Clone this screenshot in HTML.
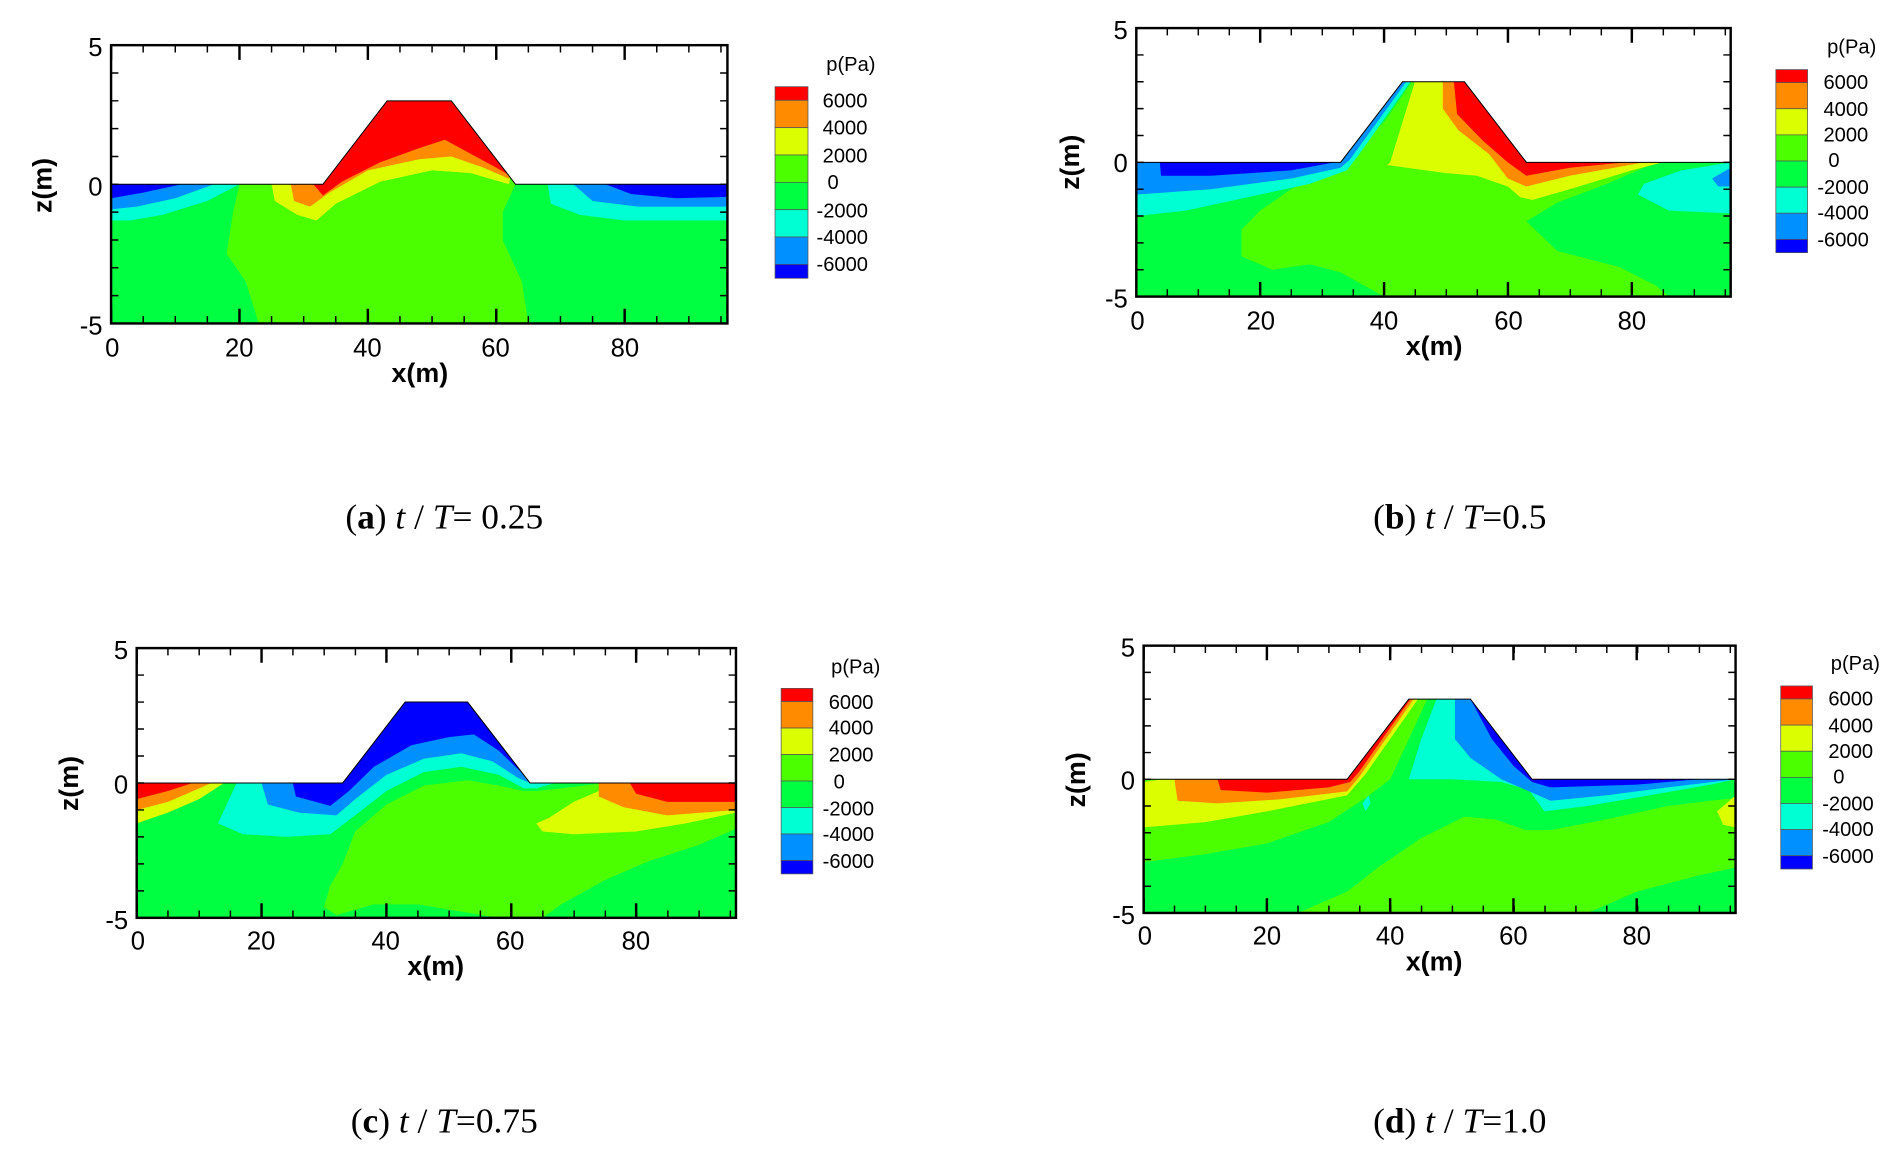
<!DOCTYPE html>
<html><head><meta charset="utf-8"><style>
html,body{margin:0;padding:0;background:#fff}
svg{display:block}
.R{fill:#ff0000}.O{fill:#ff8c00}.Y{fill:#dcff00}.LG{fill:#4cff00}.G{fill:#00ff40}.C{fill:#00ffd2}.LB{fill:#0090ff}.B{fill:#0000ff}
.t{font-family:"Liberation Sans",sans-serif;font-size:21px;fill:#000}
.l{font-family:"Liberation Sans",sans-serif;font-size:16.5px;fill:#000}
.ax{font-family:"Liberation Sans",sans-serif;font-size:22px;font-weight:bold;fill:#000}
.cap{font-family:"Liberation Serif",serif;font-size:29px;fill:#000}
</style></head><body>
<svg width="1904" height="1165" viewBox="0 0 1560 954.5" xmlns="http://www.w3.org/2000/svg">
<defs>
<clipPath id="dom"><polygon points="0,0 33,0 43,3 53,3 63,0 96,0 96,-5 0,-5"/></clipPath>
</defs>

<!-- ===== Panel a ===== -->
<g transform="translate(91,151) scale(5.26,-22.8)">
<g clip-path="url(#dom)">
<rect x="0" y="-5" width="96" height="10" class="G"/>
<polygon class="LG" points="20,0 19,-1 18,-2.5 21,-3.5 23,-5 65,-5 64,-3.5 61,-2 61,-1 63,0 63,5 20,5"/>
<polygon class="Y" points="25,0 25.5,-0.6 29,-1.1 32,-1.3 35,-0.7 42,0.1 50,0.5 56,0.4 62,0 65,5 25,5"/>
<polygon class="O" points="28,0 28.5,-0.6 31,-0.8 34,-0.3 40,0.5 48,0.9 53,1.0 58,0.6 62,0.2 65,5 28,5"/>
<polygon class="R" points="31.5,0 33,-0.4 36,0.1 42,0.8 48,1.3 52,1.6 56,1.1 60,0.6 63,0.2 65,5 31,5"/>
<polygon class="C" points="0,0 20,0 15,-0.6 8,-1.1 3,-1.3 0,-1.3"/>
<polygon class="LB" points="0,0 16,0 10,-0.5 4,-0.8 0,-0.9"/>
<polygon class="B" points="0,0 11,0 5,-0.3 0,-0.5"/>
<polygon class="C" points="68,0 68.5,-0.7 73,-1.1 80,-1.3 96,-1.3 96,0"/>
<polygon class="LB" points="72,0 75,-0.6 82,-0.8 96,-0.8 96,0"/>
<polygon class="B" points="77,0 81,-0.35 88,-0.5 96,-0.45 96,0"/>
</g>
<polyline points="0,0 33,0 43,3 53,3 63,0 96,0" fill="none" stroke="#000" stroke-width="1" vector-effect="non-scaling-stroke"/>
</g>
<g stroke="#000" fill="none">
<rect x="91" y="37" width="505" height="228" stroke-width="2"/>
<line x1="91" x2="596" y1="40" y2="40" stroke-width="6" stroke-dasharray="1.2 25.1" stroke-dashoffset="0.6"/>
<line x1="91" x2="596" y1="43" y2="43" stroke-width="12" stroke-dasharray="2 103.2" stroke-dashoffset="1"/>
<line x1="91" x2="596" y1="262" y2="262" stroke-width="6" stroke-dasharray="1.2 25.1" stroke-dashoffset="0.6"/>
<line x1="91" x2="596" y1="259" y2="259" stroke-width="12" stroke-dasharray="2 103.2" stroke-dashoffset="1"/>
<line x1="94" x2="94" y1="37" y2="265" stroke-width="6" stroke-dasharray="1.2 21.6" stroke-dashoffset="0.6"/>
<line x1="593" x2="593" y1="37" y2="265" stroke-width="6" stroke-dasharray="1.2 21.6" stroke-dashoffset="0.6"/>
</g>
<g class="t" text-anchor="end"><text x="84" y="46">5</text><text x="84" y="160">0</text><text x="84" y="274">-5</text></g>
<g class="t" text-anchor="middle"><text x="92" y="292">0</text><text x="196" y="292">20</text><text x="301" y="292">40</text><text x="406" y="292">60</text><text x="512" y="292">80</text></g>
<text class="ax" x="344" y="313" text-anchor="middle">x(m)</text>
<text class="ax" transform="translate(42,152) rotate(-90)" text-anchor="middle">z(m)</text>
<g stroke="#555" stroke-width="0.6">
<rect x="635" y="71" width="27" height="11.2" class="R"/><rect x="635" y="82.2" width="27" height="22.4" class="O"/><rect x="635" y="104.6" width="27" height="22.4" class="Y"/><rect x="635" y="127" width="27" height="22.4" class="LG"/><rect x="635" y="149.4" width="27" height="22.4" class="G"/><rect x="635" y="171.8" width="27" height="22.4" class="C"/><rect x="635" y="194.2" width="27" height="22.4" class="LB"/><rect x="635" y="216.6" width="27" height="11.4" class="B"/>
</g>
<text class="l" x="677" y="58" font-size="14">p(Pa)</text>
<g class="l"><text x="674" y="88">6000</text><text x="674" y="110">4000</text><text x="674" y="133">2000</text><text x="678" y="155">0</text><text x="669" y="178">-2000</text><text x="669" y="200">-4000</text><text x="669" y="222">-6000</text></g>
<text class="cap" x="364" y="433" text-anchor="middle">(<tspan font-weight="bold">a</tspan>) <tspan font-style="italic">t</tspan> / <tspan font-style="italic">T</tspan>= 0.25</text>

<!-- ===== Panel b ===== -->
<g transform="translate(931,133) scale(5.073,-22)">
<g clip-path="url(#dom)">
<rect x="0" y="-5" width="96" height="10" class="G"/>
<polygon class="LG" points="44.5,3 40,1.5 34,0.3 30,-0.4 25,-1 20,-1.8 17,-2.5 17,-3.5 22,-4 28,-3.8 33,-4.1 40,-5 86,-5 84,-4.6 78,-3.9 68,-3.3 63,-2.2 68,-1.5 76,-0.8 84,0 96,0 96,5 44.5,5"/>
<polygon class="Y" points="45,3 43,1.5 41,0 40.5,-0.1 50,-0.4 55,-0.5 60,-0.9 62,-1.3 64,-1.4 70,-1.0 80,-0.3 85,0 96,5 45,5"/>
<polygon class="O" points="49.5,3 49.5,2 52,1.2 57,0.3 60,-0.6 63,-0.9 70,-0.5 82,0 96,5 49.5,5"/>
<polygon class="R" points="51.3,3 51.8,1.8 56,0.8 60,0 63,-0.5 70,-0.2 79,0 96,5 51.3,5"/>
<polygon class="C" points="0,0 33,0 43,3 44.3,3 36,0.3 34,-0.3 28,-0.8 18,-1.3 8,-1.8 0,-2.0"/>
<polygon class="LB" points="0,0 33,0 43,3 43.6,3 34.5,0.1 33,-0.2 25,-0.6 12,-1.0 0,-1.2"/>
<polygon class="B" points="3.8,0 32,0 25,-0.3 12,-0.5 4,-0.5"/>
<polygon class="C" points="96,0 88,-0.3 82,-0.8 81,-1.2 86,-1.8 96,-1.9"/>
<polygon class="LB" points="96,-0.2 93,-0.6 94,-0.9 96,-0.9"/>
</g>
<polyline points="0,0 33,0 43,3 53,3 63,0 96,0" fill="none" stroke="#000" stroke-width="1" vector-effect="non-scaling-stroke"/>
</g>
<g stroke="#000" fill="none">
<rect x="931" y="23" width="487" height="220" stroke-width="2"/>
<line x1="931" x2="1418" y1="26" y2="26" stroke-width="6" stroke-dasharray="1.2 24.2" stroke-dashoffset="0.6"/>
<line x1="931" x2="1418" y1="29" y2="29" stroke-width="12" stroke-dasharray="2 99.5" stroke-dashoffset="1"/>
<line x1="931" x2="1418" y1="240" y2="240" stroke-width="6" stroke-dasharray="1.2 24.2" stroke-dashoffset="0.6"/>
<line x1="931" x2="1418" y1="237" y2="237" stroke-width="12" stroke-dasharray="2 99.5" stroke-dashoffset="1"/>
<line x1="934" x2="934" y1="23" y2="243" stroke-width="6" stroke-dasharray="1.2 20.8" stroke-dashoffset="0.6"/>
<line x1="1415" x2="1415" y1="23" y2="243" stroke-width="6" stroke-dasharray="1.2 20.8" stroke-dashoffset="0.6"/>
</g>
<g class="t" text-anchor="end"><text x="924" y="32">5</text><text x="924" y="141">0</text><text x="924" y="252">-5</text></g>
<g class="t" text-anchor="middle"><text x="932" y="270">0</text><text x="1033" y="270">20</text><text x="1134" y="270">40</text><text x="1236" y="270">60</text><text x="1337" y="270">80</text></g>
<text class="ax" x="1175" y="291" text-anchor="middle">x(m)</text>
<text class="ax" transform="translate(884,133) rotate(-90)" text-anchor="middle">z(m)</text>
<g stroke="#555" stroke-width="0.6">
<rect x="1455" y="57" width="26" height="10.7" class="R"/><rect x="1455" y="67.7" width="26" height="21.4" class="O"/><rect x="1455" y="89.1" width="26" height="21.4" class="Y"/><rect x="1455" y="110.5" width="26" height="21.4" class="LG"/><rect x="1455" y="131.9" width="26" height="21.4" class="G"/><rect x="1455" y="153.3" width="26" height="21.4" class="C"/><rect x="1455" y="174.7" width="26" height="21.4" class="LB"/><rect x="1455" y="196.1" width="26" height="10.9" class="B"/>
</g>
<text class="l" x="1497" y="44" font-size="14">p(Pa)</text>
<g class="l"><text x="1494" y="73">6000</text><text x="1494" y="95">4000</text><text x="1494" y="116">2000</text><text x="1498" y="137">0</text><text x="1489" y="159">-2000</text><text x="1489" y="180">-4000</text><text x="1489" y="202">-6000</text></g>
<text class="cap" x="1196" y="433" text-anchor="middle">(<tspan font-weight="bold">b</tspan>) <tspan font-style="italic">t</tspan> / <tspan font-style="italic">T</tspan>=0.5</text>

<!-- ===== Panel c ===== -->
<g transform="translate(112,641.5) scale(5.115,-22.1)">
<g clip-path="url(#dom)">
<rect x="0" y="-5" width="96" height="10" class="G"/>
<polygon class="LG" points="32,-4.9 30,-4.6 31,-3.8 33,-3 35,-1.8 40,-0.8 46,-0.1 53,0.1 58,-0.1 62,-0.3 64,-0.3 68,-0.2 75,0 96,0 96,-1.7 90,-2.3 82,-2.9 75,-3.6 68,-4.5 65,-5 58,-5 45,-4.5 38,-4.5"/>
<polygon class="Y" points="64,-1.5 66,-1.3 70,-0.7 75,-0.2 78,0 96,0 96,-1.1 88,-1.5 80,-1.8 70,-1.9 65,-1.8"/>
<polygon class="O" points="74,0 74,-0.5 78,-0.9 85,-1.2 96,-1.0 96,0"/>
<polygon class="R" points="79,0 80,-0.4 85,-0.7 96,-0.7 96,0"/>
<polygon class="Y" points="0,-1.5 5,-1.1 10,-0.6 14,0 0,0"/>
<polygon class="O" points="0,-1.0 5,-0.7 10,-0.2 12,0 0,0"/>
<polygon class="R" points="0,-0.6 5,-0.3 9,0 0,0"/>
<polygon class="C" points="16,0 14,-1 13,-1.5 17,-1.9 24,-2 31,-1.9 35,-1.2 40,-0.3 46,0.4 52,0.6 58,0.3 62,-0.2 64,-0.2 67,0 70,5 16,5"/>
<polygon class="LB" points="20,0 21,-0.8 26,-1.1 32,-1.2 35,-0.6 40,0.3 46,0.9 52,1.1 57,0.8 61,0.2 63,0 70,5 20,5"/>
<polygon class="B" points="25,0 25.5,-0.5 31,-0.85 34,-0.3 38,0.6 44,1.4 50,1.7 54,1.8 58,1.2 62,0.3 63,0 70,5 20,5"/>
</g>
<polyline points="0,0 33,0 43,3 53,3 63,0 96,0" fill="none" stroke="#000" stroke-width="1" vector-effect="non-scaling-stroke"/>
</g>
<g stroke="#000" fill="none">
<rect x="112" y="531" width="491" height="221" stroke-width="2"/>
<line x1="112" x2="603" y1="534" y2="534" stroke-width="6" stroke-dasharray="1.2 24.4" stroke-dashoffset="0.6"/>
<line x1="112" x2="603" y1="537" y2="537" stroke-width="12" stroke-dasharray="2 100.3" stroke-dashoffset="1"/>
<line x1="112" x2="603" y1="749" y2="749" stroke-width="6" stroke-dasharray="1.2 24.4" stroke-dashoffset="0.6"/>
<line x1="112" x2="603" y1="746" y2="746" stroke-width="12" stroke-dasharray="2 100.3" stroke-dashoffset="1"/>
<line x1="115" x2="115" y1="531" y2="752" stroke-width="6" stroke-dasharray="1.2 20.9" stroke-dashoffset="0.6"/>
<line x1="600" x2="600" y1="531" y2="752" stroke-width="6" stroke-dasharray="1.2 20.9" stroke-dashoffset="0.6"/>
</g>
<g class="t" text-anchor="end"><text x="105" y="540">5</text><text x="105" y="650">0</text><text x="105" y="761">-5</text></g>
<g class="t" text-anchor="middle"><text x="113" y="778">0</text><text x="214" y="778">20</text><text x="316" y="778">40</text><text x="418" y="778">60</text><text x="521" y="778">80</text></g>
<text class="ax" x="357" y="799" text-anchor="middle">x(m)</text>
<text class="ax" transform="translate(64,642) rotate(-90)" text-anchor="middle">z(m)</text>
<g stroke="#555" stroke-width="0.6">
<rect x="640" y="564" width="26" height="10.8" class="R"/><rect x="640" y="574.8" width="26" height="21.7" class="O"/><rect x="640" y="596.5" width="26" height="21.7" class="Y"/><rect x="640" y="618.2" width="26" height="21.7" class="LG"/><rect x="640" y="639.9" width="26" height="21.7" class="G"/><rect x="640" y="661.6" width="26" height="21.7" class="C"/><rect x="640" y="683.3" width="26" height="21.7" class="LB"/><rect x="640" y="705" width="26" height="11" class="B"/>
</g>
<text class="l" x="681" y="552" font-size="14">p(Pa)</text>
<g class="l"><text x="679" y="581">6000</text><text x="679" y="602">4000</text><text x="679" y="624">2000</text><text x="683" y="646">0</text><text x="674" y="668">-2000</text><text x="674" y="689">-4000</text><text x="674" y="711">-6000</text></g>
<text class="cap" x="364" y="928" text-anchor="middle">(<tspan font-weight="bold">c</tspan>) <tspan font-style="italic">t</tspan> / <tspan font-style="italic">T</tspan>=0.75</text>

<!-- ===== Panel d ===== -->
<g transform="translate(937,638.5) scale(5.052,-21.9)">
<g clip-path="url(#dom)">
<rect x="0" y="-5" width="96" height="10" class="G"/>
<polygon class="LG" points="25,-5 33,-4.2 38,-3.3 45,-2.2 52,-1.4 57,-1.5 62,-1.9 66,-1.9 75,-1.5 85,-1.0 92,-0.8 96,-0.7 96,-3.3 90,-3.6 80,-4.2 72,-5"/>
<polygon class="LG" points="0,0 0,-3.1 10,-2.8 20,-2.4 30,-1.6 36,-0.7 40,0 46,3 30,3 0,0"/>
<polygon class="Y" points="0,-0.1 0,-1.8 10,-1.6 20,-1.2 33,-0.6 36,0.2 44.5,3 30,3 3,0"/>
<polygon class="Y" points="96,-0.6 93,-1.2 94,-1.7 96,-1.8"/>
<polygon class="O" points="5,0 5.5,-0.8 12,-0.9 22,-0.75 33,-0.45 35,0.1 43.8,3 30,3"/>
<polygon class="R" points="12,0 12.5,-0.4 20,-0.5 30,-0.3 33.5,-0.1 35,0.3 43.3,3 30,3"/>
<polygon class="C" points="43,0 45,1.5 47.5,3 47.5,5 96,5 96,0 92,-0.2 82,-0.6 72,-1.0 65,-1.2 62.5,-0.4 58,-0.1 50,0"/>
<polygon class="C" points="35.5,-0.9 36.5,-0.6 36.8,-0.9 36,-1.2"/>
<polygon class="LB" points="50.5,3 50.5,1.5 53,0.8 58,0 63,-0.5 66,-0.8 75,-0.6 85,-0.3 96,0 96,5 50.5,5"/>
<polygon class="B" points="53,3 56.5,1.5 60,0.5 63,-0.1 66,-0.3 80,-0.2 90,0 96,0 96,5 53,5"/>
</g>
<polyline points="0,0 33,0 43,3 53,3 63,0 96,0" fill="none" stroke="#000" stroke-width="1" vector-effect="non-scaling-stroke"/>
</g>
<g stroke="#000" fill="none">
<rect x="937" y="529" width="485" height="219" stroke-width="2"/>
<line x1="937" x2="1422" y1="532" y2="532" stroke-width="6" stroke-dasharray="1.2 24.1" stroke-dashoffset="0.6"/>
<line x1="937" x2="1422" y1="535" y2="535" stroke-width="12" stroke-dasharray="2 99" stroke-dashoffset="1"/>
<line x1="937" x2="1422" y1="745" y2="745" stroke-width="6" stroke-dasharray="1.2 24.1" stroke-dashoffset="0.6"/>
<line x1="937" x2="1422" y1="742" y2="742" stroke-width="12" stroke-dasharray="2 99" stroke-dashoffset="1"/>
<line x1="940" x2="940" y1="529" y2="748" stroke-width="6" stroke-dasharray="1.2 20.7" stroke-dashoffset="0.6"/>
<line x1="1419" x2="1419" y1="529" y2="748" stroke-width="6" stroke-dasharray="1.2 20.7" stroke-dashoffset="0.6"/>
</g>
<g class="t" text-anchor="end"><text x="930" y="538">5</text><text x="930" y="647">0</text><text x="930" y="757">-5</text></g>
<g class="t" text-anchor="middle"><text x="938" y="774">0</text><text x="1038" y="774">20</text><text x="1139" y="774">40</text><text x="1240" y="774">60</text><text x="1341" y="774">80</text></g>
<text class="ax" x="1175" y="795" text-anchor="middle">x(m)</text>
<text class="ax" transform="translate(889,639) rotate(-90)" text-anchor="middle">z(m)</text>
<g stroke="#555" stroke-width="0.6">
<rect x="1459" y="562" width="26" height="10.7" class="R"/><rect x="1459" y="572.7" width="26" height="21.4" class="O"/><rect x="1459" y="594.1" width="26" height="21.4" class="Y"/><rect x="1459" y="615.5" width="26" height="21.4" class="LG"/><rect x="1459" y="636.9" width="26" height="21.4" class="G"/><rect x="1459" y="658.3" width="26" height="21.4" class="C"/><rect x="1459" y="679.7" width="26" height="21.4" class="LB"/><rect x="1459" y="701.1" width="26" height="10.9" class="B"/>
</g>
<text class="l" x="1500" y="549" font-size="14">p(Pa)</text>
<g class="l"><text x="1498" y="578">6000</text><text x="1498" y="600">4000</text><text x="1498" y="621">2000</text><text x="1502" y="642">0</text><text x="1493" y="664">-2000</text><text x="1493" y="685">-4000</text><text x="1493" y="707">-6000</text></g>
<text class="cap" x="1196" y="928" text-anchor="middle">(<tspan font-weight="bold">d</tspan>) <tspan font-style="italic">t</tspan> / <tspan font-style="italic">T</tspan>=1.0</text>
</svg>
</body></html>
